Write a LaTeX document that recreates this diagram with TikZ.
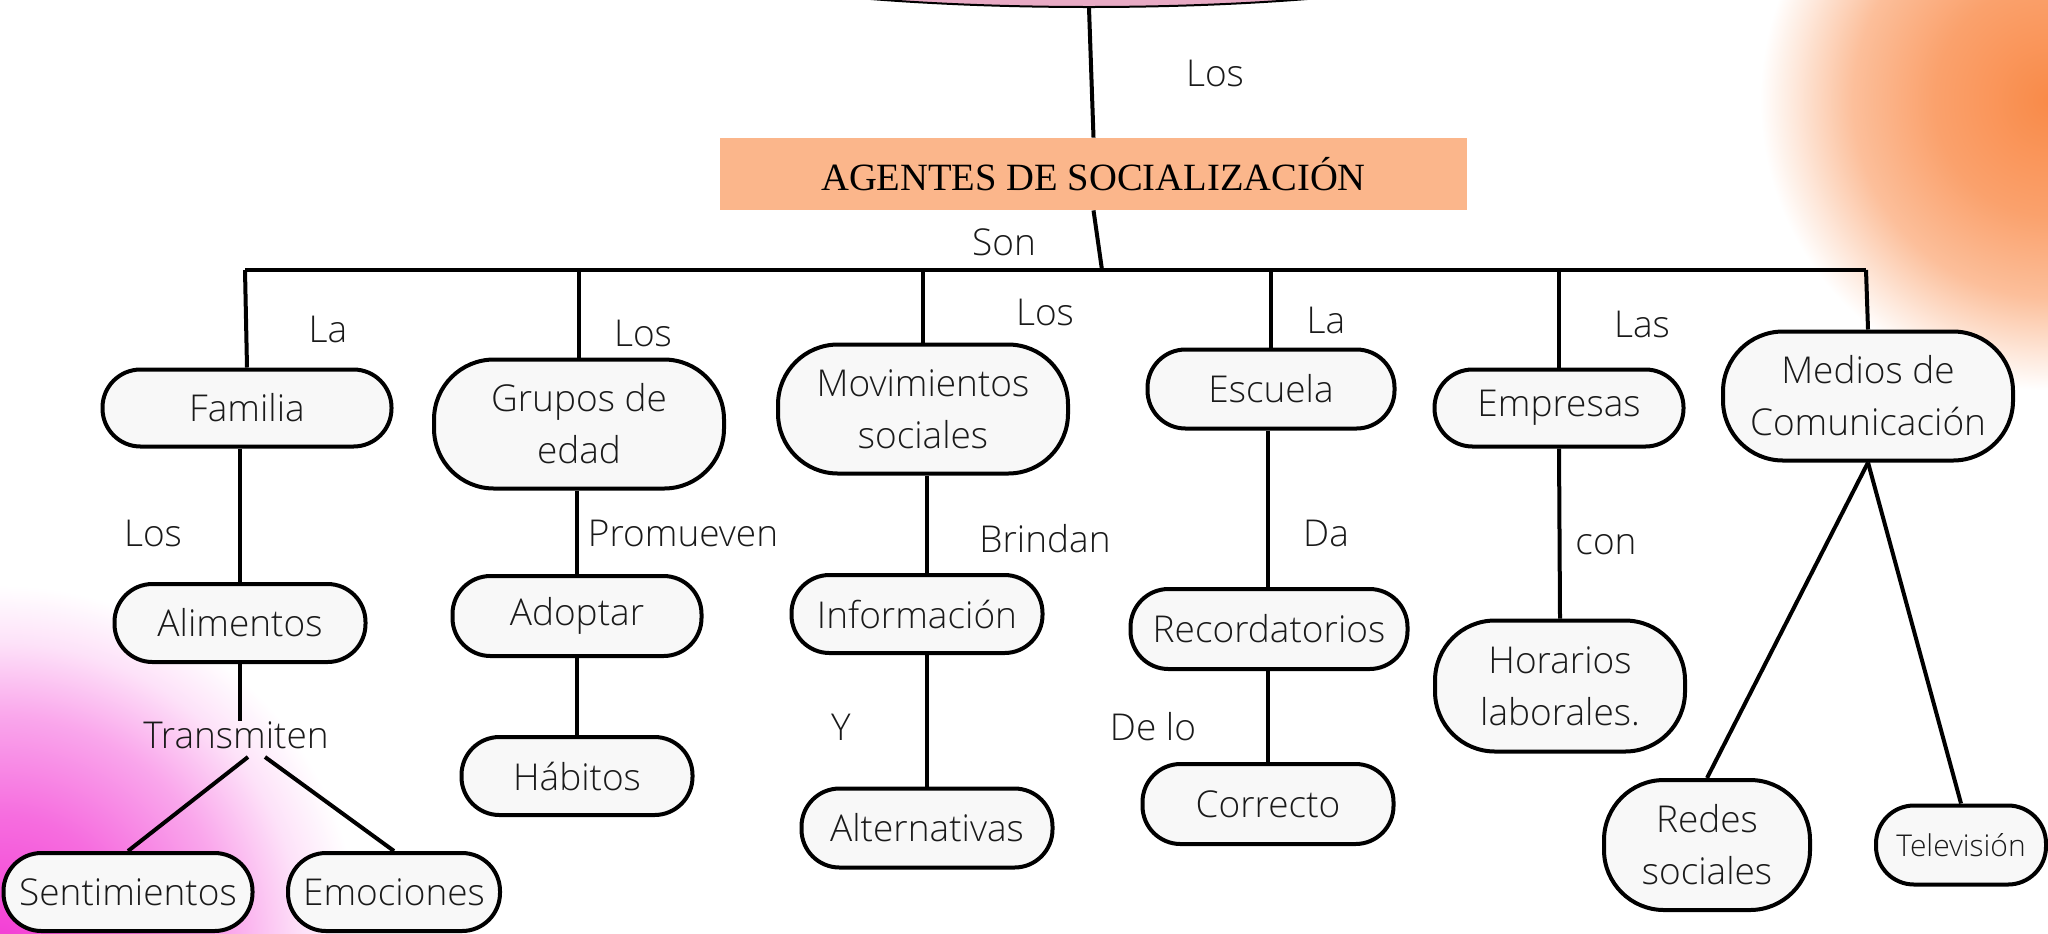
\documentclass[tikz,border=0pt]{standalone}
\usepackage{fontspec}
\IfFontExistsTF{Open Sans Light}{\setmainfont{Open Sans Light}}{\setmainfont{Open Sans}}
\newfontfamily\titlefont{Liberation Serif}
\usetikzlibrary{shapes.geometric}
\definecolor{glowO}{HTML}{F98A48}
\definecolor{glowP}{HTML}{F33CD4}
\definecolor{titlefill}{HTML}{FBB68B}
\definecolor{srcfill}{HTML}{E8AAC4}
\definecolor{boxfill}{HTML}{F8F8F8}
\definecolor{ink}{HTML}{1A1A1A}
\pgfdeclareradialshading{orangeglow}{\pgfpointorigin}{color(0bp)=(glowO); color(10bp)=(glowO!80!white); color(17bp)=(glowO!55!white); color(22bp)=(glowO!20!white); color(25bp)=(white)}
\pgfdeclareradialshading{pinkglow}{\pgfpointorigin}{color(0bp)=(glowP); color(9bp)=(glowP!75!white); color(16bp)=(glowP!45!white); color(21bp)=(glowP!15!white); color(25bp)=(white)}
\begin{document}
\begin{tikzpicture}[x=0.5pt, y=-0.5pt,
  conn/.style={draw=black, line width=2pt},
  box/.style={draw=black, line width=2pt, fill=boxfill, rounded corners=19pt, inner sep=0pt, align=center, text=ink, font=\fontsize{18.5}{26}\selectfont},
  bigbox/.style={box, rounded corners=30pt},
  lbl/.style={inner sep=0pt, text=ink, font=\fontsize{18.5}{26}\selectfont}]
\useasboundingbox (0,0) rectangle (2048,933);
\clip (0,0) rectangle (2048,933);
\fill[white] (0,0) rectangle (2048,933);
% background glows
\shade[shading=orangeglow] (2050,100) circle [radius=145pt];
\shade[shading=pinkglow] (0,945) circle [radius=180pt];

% source (cut off at top)
\node (src) [ellipse, draw=black, line width=1pt, fill=srcfill, minimum width=460pt, minimum height=67pt, inner sep=0pt] at (1089,-60) {};
% title
\node (title) [fill=titlefill, minimum width=373.5pt, minimum height=36pt, inner sep=0pt, text=black, font=\titlefont\fontsize{19.3}{22}\selectfont] at (1093.5,174) {AGENTES DE SOCIALIZACIÓN};

% first row
\node (fam) [box, minimum width=144.5pt, minimum height=38.5pt] at (247,408) {Familia};
\node (gru) [bigbox, minimum width=145pt, minimum height=64.5pt] at (579,424) {Grupos de\\edad};
\node (mov) [bigbox, minimum width=145pt, minimum height=64.5pt] at (923,409) {Movimientos\\sociales};
\node (esc) [box, minimum width=123.5pt, minimum height=39.5pt] at (1271,389) {Escuela};
\node (emp) [box, minimum width=124.5pt, minimum height=38.5pt] at (1559,408) {Empresas};
\node (med) [bigbox, minimum width=145pt, minimum height=64.5pt] at (1868,396) {Medios de\\Comunicación};
% second row
\node (ali) [box, minimum width=125.5pt, minimum height=39pt] at (240,623) {Alimentos};
\node (ado) [box, minimum width=124.5pt, minimum height=40pt] at (577,616) {Adoptar};
\node (inf) [box, minimum width=125.5pt, minimum height=39pt] at (917,614) {Información};
\node (rec) [box, minimum width=138.5pt, minimum height=40pt] at (1269,629) {Recordatorios};
\node (hor) [bigbox, minimum width=125pt, minimum height=65.5pt] at (1560,686) {Horarios\\laborales.};
% third row
\node (hab) [box, minimum width=115.5pt, minimum height=39pt] at (577,776) {Hábitos};
\node (alt) [box, minimum width=125.5pt, minimum height=39.5pt] at (927,828) {Alternativas};
\node (cor) [box, minimum width=125.5pt, minimum height=40pt] at (1268,804) {Correcto};
\node (red) [bigbox, minimum width=103pt, minimum height=65pt] at (1707,845) {Redes\\sociales};
\node (tel) [box, minimum width=85pt, minimum height=39.5pt, font=\fontsize{15}{20}\selectfont] at (1961,845) {Televisión};
\node (sen) [box, minimum width=124.5pt, minimum height=39pt] at (128,892) {Sentimientos};
\node (emo) [box, minimum width=106pt, minimum height=39pt] at (394,892) {Emociones};
\node (tra) [lbl] at (236,735) {Transmiten};

% connectors
\coordinate (barL) at (245,270);
\coordinate (barR) at (1866,270);
\coordinate (barC) at (1102,270);
\coordinate (t1) at (248,757);
\coordinate (t2) at (265,757);
\draw[conn] (src.south) -- (title.north);
\draw[conn] (title.south) -- (barC);
\draw[conn] (barL) -- (barR);
\draw[conn] (barL) -- (fam.north);
\draw[conn] (gru.north |- barL) -- (gru.north);
\draw[conn] (mov.north |- barL) -- (mov.north);
\draw[conn] (esc.north |- barL) -- (esc.north);
\draw[conn] (emp.north |- barL) -- (emp.north);
\draw[conn] (barR) -- (med.north);
\draw[conn] (ali.north |- fam.south) -- (ali.north);
\draw[conn] (ali.south) -- (ali.south |- tra.north);
\draw[conn] (t1) -- (sen.north);
\draw[conn] (t2) -- (emo.north);
\draw[conn] (ado.north |- gru.south) -- (ado.north);
\draw[conn] (ado.south) -- (hab.north);
\draw[conn] (alt.north |- mov.south) -- (alt.north |- inf.north);
\draw[conn] (alt.north |- inf.south) -- (alt.north);
\draw[conn] (cor.north |- esc.south) -- (cor.north |- rec.north);
\draw[conn] (cor.north |- rec.south) -- (cor.north);
\draw[conn] (emp.south) -- (hor.north);
\draw[conn] (med.south) -- (red.north);
\draw[conn] (med.south) -- (tel.north);

% connector labels
\node[lbl] (l1) at (1215,73) {Los};
\node[lbl] (l2) at (1004,242) {Son};
\node[lbl] (l3) at (328,329) {La};
\node[lbl] (l4) at (643,333) {Los};
\node[lbl] (l5) at (1045,312) {Los};
\node[lbl] (l6) at (1326,320) {La};
\node[lbl] (l7) at (1642,324) {Las};
\node[lbl] (l8) at (153,533) {Los};
\node[lbl] (l9) at (683,533) {Promueven};
\node[lbl] (l10) at (1045,539) {Brindan};
\node[lbl] (l11) at (1326,533) {Da};
\node[lbl] (l12) at (1606,545) {con};
\node[lbl] (l13) at (841,727) {Y};
\node[lbl] (l14) at (1153,727) {De lo};
\end{tikzpicture}
\end{document}
